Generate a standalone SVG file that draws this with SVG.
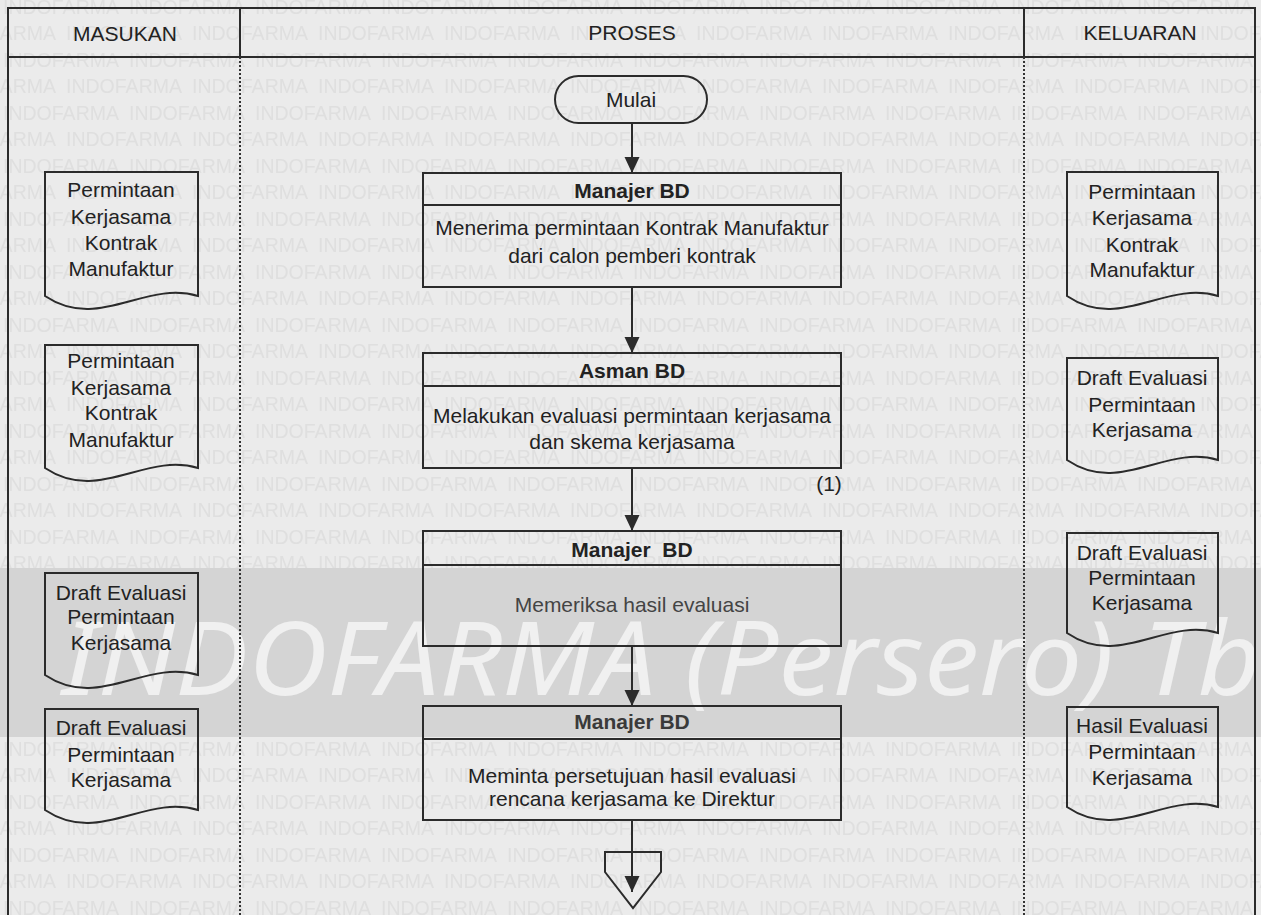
<svg xmlns="http://www.w3.org/2000/svg" width="1261" height="915" viewBox="0 0 1261 915">
<defs>
<style>
.t{font-family:"Liberation Sans",Arial,sans-serif;font-size:21px;fill:#222;text-anchor:middle}
.b{font-weight:bold}
.s{fill:none;stroke:#2b2b2b;stroke-width:2}
.wm{font-family:"Liberation Sans",Arial,sans-serif;font-size:20px;fill:#dfdfdf}
.big{font-family:"Noto Sans","Open Sans",sans-serif;font-style:italic;font-size:102px;fill:#f0f0f0}
.dot{fill:none;stroke:#333;stroke-width:2;stroke-dasharray:2 2}
.c{fill:none;stroke:#2b2b2b;stroke-width:2}
</style>
<marker id="ah" markerUnits="userSpaceOnUse" markerWidth="16" markerHeight="16" viewBox="0 0 16 16" refX="16" refY="8" orient="auto">
<path d="M0,0.5 L16,8 L0,15.5 Z" fill="#2b2b2b"/>
</marker>
<pattern id="wmp" patternUnits="userSpaceOnUse" x="0" y="0" width="126" height="53">
<rect width="126" height="53" fill="#ebebeb"/>
<text class="wm" x="3" y="14" textLength="116" lengthAdjust="spacingAndGlyphs">INDOFARMA</text>
<text class="wm" x="3" y="67" textLength="116" lengthAdjust="spacingAndGlyphs">INDOFARMA</text>
<text class="wm" x="-60" y="40" textLength="116" lengthAdjust="spacingAndGlyphs">INDOFARMA</text>
<text class="wm" x="66" y="40" textLength="116" lengthAdjust="spacingAndGlyphs">INDOFARMA</text>
</pattern>
<pattern id="band" patternUnits="userSpaceOnUse" x="0" y="568" width="1261" height="169">
<rect width="1261" height="169" fill="#d4d4d4"/>
<text class="big" x="62" y="127" textLength="1199" lengthAdjust="spacingAndGlyphs">INDOFARMA (Persero) Tb</text>
</pattern>
</defs>
<g id="background">
<rect x="0" y="0" width="1261" height="915" fill="url(#wmp)"/>
<rect x="0" y="568" width="1261" height="169" fill="url(#band)"/>
</g>
<g id="frame">
<path class="s" d="M8,915 V8 H1255 V915"/>
<line class="s" x1="8" y1="57" x2="1255" y2="57"/>
<line class="s" x1="240" y1="8" x2="240" y2="57"/>
<line class="s" x1="1024" y1="8" x2="1024" y2="57"/>
<line class="dot" x1="240" y1="57" x2="240" y2="915"/>
<line class="dot" x1="1024" y1="57" x2="1024" y2="915"/>
<text class="t" x="125" y="41">MASUKAN</text>
<text class="t" x="632" y="40">PROSES</text>
<text class="t" x="1140" y="40">KELUARAN</text>
</g>
<g id="connectors">
<line class="c" x1="632" y1="123" x2="632" y2="173" marker-end="url(#ah)"/>
<line class="c" x1="632" y1="287" x2="632" y2="353" marker-end="url(#ah)"/>
<line class="c" x1="632" y1="468" x2="632" y2="531" marker-end="url(#ah)"/>
<line class="c" x1="632" y1="646" x2="632" y2="706" marker-end="url(#ah)"/>
<line class="c" x1="632" y1="820" x2="632" y2="892" marker-end="url(#ah)"/>
</g>
<g id="mulai">
<rect class="s" x="555" y="76" width="152" height="47" rx="23.5"/>
<text class="t" x="631" y="107">Mulai</text>
</g>
<g id="p1">
<rect class="s" x="423" y="173" width="418" height="114"/>
<line class="s" x1="423" y1="205" x2="841" y2="205"/>
<text class="t b" x="632" y="198">Manajer BD</text>
<text class="t" x="632" y="235">Menerima permintaan Kontrak Manufaktur</text>
<text class="t" x="632" y="263">dari calon pemberi kontrak</text>
</g>
<g id="p2">
<rect class="s" x="423" y="353" width="418" height="115"/>
<line class="s" x1="423" y1="386" x2="841" y2="386"/>
<text class="t b" x="632" y="378">Asman BD</text>
<text class="t" x="632" y="423">Melakukan evaluasi permintaan kerjasama</text>
<text class="t" x="632" y="449">dan skema kerjasama</text>
<text class="t" x="829" y="491">(1)</text>
</g>
<g id="p3">
<rect class="s" x="423" y="531" width="418" height="115"/>
<line class="s" x1="423" y1="565" x2="841" y2="565"/>
<text class="t b" x="632" y="557" xml:space="preserve">Manajer  BD</text>
<text class="t" x="632" y="612" style="fill:#444">Memeriksa hasil evaluasi</text>
</g>
<g id="p4">
<rect class="s" x="423" y="706" width="418" height="114"/>
<line class="s" x1="423" y1="739" x2="841" y2="739"/>
<text class="t b" x="632" y="729" style="fill:#3a3a3a">Manajer BD</text>
<text class="t" x="632" y="783">Meminta persetujuan hasil evaluasi</text>
<text class="t" x="632" y="806">rencana kerjasama ke Direktur</text>
</g>
<g id="offpage">
<path class="s" d="M605,852 H661 V872 L633,908 L605,872 Z"/>
</g>
<g id="in1">
<path class="s" d="M45,172 H198 V296 C144,280 99,332 45,296 Z"/>
<text class="t" x="121" y="197">Permintaan</text>
<text class="t" x="121" y="224">Kerjasama</text>
<text class="t" x="121" y="250">Kontrak</text>
<text class="t" x="121" y="276">Manufaktur</text>
</g>
<g id="in2">
<path class="s" d="M45,345 H198 V468 C144,452 99,504 45,468 Z"/>
<text class="t" x="121" y="368">Permintaan</text>
<text class="t" x="121" y="395">Kerjasama</text>
<text class="t" x="121" y="420">Kontrak</text>
<text class="t" x="121" y="447">Manufaktur</text>
</g>
<g id="in3">
<path class="s" d="M45,573 H198 V675 C144,659 99,711 45,675 Z"/>
<text class="t" x="121" y="600">Draft Evaluasi</text>
<text class="t" x="121" y="624">Permintaan</text>
<text class="t" x="121" y="650">Kerjasama</text>
</g>
<g id="in4">
<path class="s" d="M45,709 H198 V810 C144,794 99,846 45,810 Z"/>
<text class="t" x="121" y="735">Draft Evaluasi</text>
<text class="t" x="121" y="762">Permintaan</text>
<text class="t" x="121" y="787">Kerjasama</text>
</g>
<g id="out1">
<path class="s" d="M1067,172 H1218 V296 C1165,280 1120,332 1067,296 Z"/>
<text class="t" x="1142" y="199">Permintaan</text>
<text class="t" x="1142" y="225">Kerjasama</text>
<text class="t" x="1142" y="252">Kontrak</text>
<text class="t" x="1142" y="277">Manufaktur</text>
</g>
<g id="out2">
<path class="s" d="M1067,358 H1218 V460 C1165,444 1120,496 1067,460 Z"/>
<text class="t" x="1142" y="385">Draft Evaluasi</text>
<text class="t" x="1142" y="412">Permintaan</text>
<text class="t" x="1142" y="437">Kerjasama</text>
</g>
<g id="out3">
<path class="s" d="M1067,533 H1218 V633 C1165,617 1120,669 1067,633 Z"/>
<text class="t" x="1142" y="560">Draft Evaluasi</text>
<text class="t" x="1142" y="585">Permintaan</text>
<text class="t" x="1142" y="610">Kerjasama</text>
</g>
<g id="out4">
<path class="s" d="M1067,707 H1218 V807 C1165,791 1120,843 1067,807 Z"/>
<text class="t" x="1142" y="733">Hasil Evaluasi</text>
<text class="t" x="1142" y="759">Permintaan</text>
<text class="t" x="1142" y="785">Kerjasama</text>
</g>
</svg>
